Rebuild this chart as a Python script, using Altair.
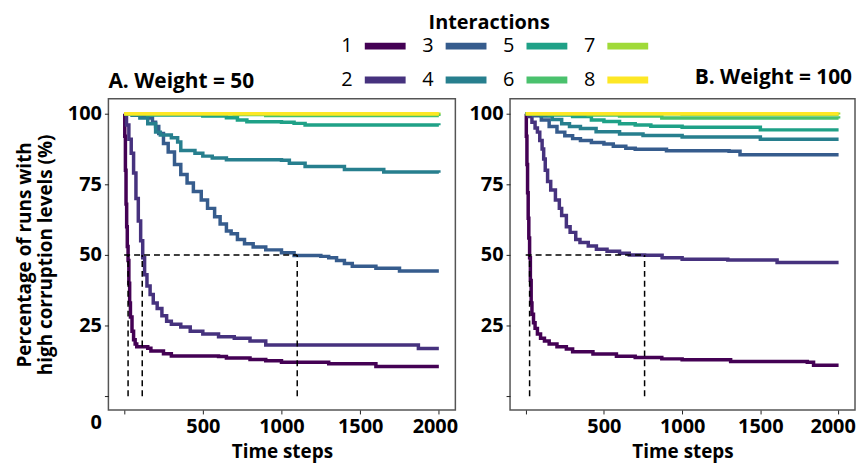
import altair as alt
import pandas as pd

FONT = "Open Sans"
INTERACTIONS = [1, 2, 3, 4, 5, 6, 7, 8]
COLORS = ["#440154", "#46327e", "#365c8d", "#277f8e", "#1fa187", "#4ac16d", "#a0da39", "#fde725"]
X_TICKS = [0, 500, 1000, 1500, 2000]
Y_TICKS = [0, 25, 50, 75, 100]

# ---- Panel A (Weight = 50): (time step, % of runs) ----
A1 = [(0, 100), (4, 92), (8, 80), (12, 68), (16, 60), (20, 53), (25, 48), (30, 40), (35, 33), (40, 28),
      (50, 23), (60, 20), (70, 18.5), (80, 17.5), (150, 17), (170, 16), (250, 15), (300, 14.2), (600, 14),
      (650, 13.5), (800, 13), (900, 12.5), (1000, 12), (1300, 11.5), (1600, 10.5), (2000, 10.5)]
A2 = [(0, 100), (15, 96), (30, 91), (45, 86), (60, 79), (75, 70), (90, 62), (105, 55), (118, 49), (130, 43),
      (145, 39), (165, 36), (185, 33), (210, 31), (240, 28.5), (270, 26.5), (300, 25.5), (360, 24.5),
      (420, 23), (500, 22), (600, 21), (700, 20.5), (800, 19.5), (900, 18.1), (1870, 16.9), (2000, 16.9)]
A3 = [(0, 100), (100, 99.5), (150, 98.5), (180, 97), (200, 95.5), (220, 93), (250, 89.5), (280, 86.5),
      (320, 82), (360, 78.5), (400, 75.5), (440, 72.5), (490, 69.5), (530, 66.5), (575, 63.5), (610, 61),
      (650, 58.5), (680, 57.5), (720, 55.5), (765, 54), (820, 52.8), (900, 51.8), (1000, 50.8), (1080, 49.8),
      (1250, 49.5), (1300, 49), (1350, 48), (1400, 47), (1450, 46), (1600, 45.3), (1750, 44.3), (2000, 44.3)]
A4 = [(0, 100), (50, 99.5), (100, 98.5), (150, 96.5), (200, 93.5), (230, 92.5), (300, 91.5), (340, 90),
      (360, 87), (450, 86), (500, 85), (560, 84.3), (650, 83.7), (1000, 83.5), (1050, 82.5), (1150, 81.3),
      (1400, 80.3), (1650, 79.4), (2000, 79.1)]
A5 = [(0, 100), (150, 99.6), (500, 99.2), (650, 98.6), (720, 97.8), (780, 97.2), (1000, 97), (1080, 96.6),
      (1150, 96), (2000, 95.9)]
A6 = [(0, 100), (700, 99.7), (900, 99.4), (2000, 99.2)]
A7 = [(0, 100), (1000, 99.8), (2000, 99.7)]
A8 = [(0, 100), (2000, 100)]

# ---- Panel B (Weight = 100) ----
B1 = [(0, 100), (4, 92), (8, 82), (12, 72), (16, 63), (20, 56), (25, 49), (30, 41), (35, 33), (40, 29),
      (50, 26), (60, 24), (75, 22), (95, 20.5), (120, 19.5), (150, 18.5), (200, 17.5), (260, 16.7),
      (300, 15.7), (430, 14.9), (580, 14.1), (700, 13.7), (870, 13.2), (1000, 12.9), (1310, 12.3),
      (1800, 12), (1840, 10.9), (2000, 10.9)]
B2 = [(0, 100), (20, 99), (40, 97), (60, 95), (75, 93.5), (90, 90.5), (105, 87.5), (115, 84), (125, 80),
      (140, 76), (160, 73), (190, 69.5), (215, 66.5), (230, 64), (260, 60), (284, 58), (320, 55.5),
      (347, 54.4), (400, 53.2), (452, 52), (520, 51.3), (600, 50.6), (662, 50), (760, 49.9), (872, 49),
      (1000, 48.5), (1292, 48.2), (1607, 47.3), (2000, 47.3)]
B3 = [(0, 100), (50, 99.3), (100, 97.8), (150, 95.5), (200, 93.5), (250, 92.2), (300, 91.2), (350, 90.5),
      (420, 89.8), (500, 89.3), (560, 88.5), (640, 87.8), (700, 87.4), (900, 86.9), (1300, 86.7),
      (1370, 85.5), (2000, 85.5)]
B4 = [(0, 100), (100, 99.2), (170, 98), (230, 96.5), (280, 95.5), (350, 94.8), (450, 93.6), (600, 92.8),
      (750, 92.3), (1000, 91.8), (1500, 91), (2000, 91)]
B5 = [(0, 100), (150, 99.6), (300, 99), (420, 97.8), (500, 97.3), (600, 96.5), (700, 96), (800, 95.6),
      (1000, 95.2), (1500, 94.3), (2000, 94.3)]
B6 = [(0, 100), (400, 99.6), (600, 99.2), (870, 98.5), (2000, 98.3)]
B7 = [(0, 100), (1000, 99.8), (2000, 99.7)]
B8 = [(0, 100), (2000, 100)]

A_SERIES = [A1, A2, A3, A4, A5, A6, A7, A8]
B_SERIES = [B1, B2, B3, B4, B5, B6, B7, B8]

# time steps at which a curve reaches 50 %
A_CROSS = [25, 115, 1100]
B_CROSS = [25, 760]

color_scale = alt.Scale(domain=INTERACTIONS, range=COLORS)
x_scale = alt.Scale(domain=[-100, 2105], nice=False, zero=False)
y_scale = alt.Scale(domain=[-4.9, 105.3], nice=False, zero=False)


def series_df(series):
    rows = []
    for k, pts in zip(INTERACTIONS, series):
        for t, p in pts:
            rows.append({"interaction": k, "t": t, "p": p})
    return pd.DataFrame(rows)


def panel(series, cross, y_title, show_zero, last_shift, width):
    x_axis = alt.Axis(values=X_TICKS, format="d", labelExpr="datum.value == 0 ? '' : datum.label",
                      title="Time steps", labelFlush=False, titlePadding=6,
                      labelOffset={"condition": {"test": "datum.value === 2000", "value": last_shift}, "value": 0})
    if show_zero:
        y_axis = alt.Axis(values=Y_TICKS, title=y_title, titlePadding=12, titleLineHeight=21,
                          labelOffset={"condition": {"test": "datum.value === 0", "value": 27}, "value": 0})
    else:
        y_axis = alt.Axis(values=Y_TICKS, title=None,
                          labelExpr="datum.value == 0 ? '' : datum.label")
    lines = alt.Chart(series_df(series)).mark_line(
        interpolate="step-after", strokeWidth=3.5
    ).encode(
        x=alt.X("t:Q", scale=x_scale, axis=x_axis),
        y=alt.Y("p:Q", scale=y_scale, axis=y_axis),
        color=alt.Color("interaction:N", scale=color_scale, legend=None),
    )
    hdf = pd.DataFrame({"t": [0], "t2": [max(cross)], "p": [50]})
    hrule = alt.Chart(hdf).mark_rule(color="black", strokeWidth=1.5, strokeDash=[6, 4]).encode(
        x=alt.X("t:Q", scale=x_scale), x2="t2:Q", y=alt.Y("p:Q", scale=y_scale)
    )
    vdf = pd.DataFrame({"t": cross, "p": [0] * len(cross), "p2": [50] * len(cross)})
    vrule = alt.Chart(vdf).mark_rule(color="black", strokeWidth=1.5, strokeDash=[6, 4]).encode(
        x=alt.X("t:Q", scale=x_scale), y=alt.Y("p:Q", scale=y_scale), y2="p2:Q"
    )
    return alt.layer(lines, hrule, vrule).properties(width=width, height=313)


pa = panel(A_SERIES, A_CROSS, ["Percentage of runs with", "high corruption levels (%)"], True, -4, 349)
pb = panel(B_SERIES, B_CROSS, None, False, -6, 347)

# ---- header: legend and panel titles (origin = left edge of panel A) ----
legend_df = pd.DataFrame({
    "interaction": INTERACTIONS,
    "col": [(k - 1) // 2 for k in INTERACTIONS],
    "row": [(k - 1) % 2 for k in INTERACTIONS],
})
legend_df["s0"] = legend_df["col"] + 0.22
legend_df["s1"] = legend_df["col"] + 0.725
hx = alt.Scale(domain=[0, 3], range=[240, 484])
hy = alt.Scale(domain=[0, 1], range=[36, 70])

leg_labels = alt.Chart(legend_df).mark_text(font=FONT, fontSize=20, color="black").encode(
    x=alt.X("col:Q", scale=hx, axis=None), y=alt.Y("row:Q", scale=hy, axis=None), text="interaction:N"
)
leg_swatch = alt.Chart(legend_df).mark_rule(strokeWidth=7).encode(
    x=alt.X("s0:Q", scale=hx, axis=None), x2="s1:Q", y=alt.Y("row:Q", scale=hy, axis=None),
    color=alt.Color("interaction:N", scale=color_scale, legend=None),
)
leg_title = alt.Chart(pd.DataFrame({"label": ["Interactions"]})).mark_text(
    font=FONT, fontSize=20, fontWeight="bold", color="black", align="center", baseline="middle"
).encode(x=alt.value(383), y=alt.value(13), text="label:N")
title_a = alt.Chart(pd.DataFrame({"label": ["A. Weight = 50"]})).mark_text(
    font=FONT, fontSize=21, fontWeight="bold", color="black", align="left", baseline="middle"
).encode(x=alt.value(0), y=alt.value(72.5), text="label:N")
title_b = alt.Chart(pd.DataFrame({"label": ["B. Weight = 100"]})).mark_text(
    font=FONT, fontSize=21, fontWeight="bold", color="black", align="right", baseline="middle"
).encode(x=alt.value(748), y=alt.value(68), text="label:N")

header = alt.layer(leg_swatch, leg_labels, leg_title, title_a, title_b).properties(
    width=748, height=87, view=alt.ViewBackground(stroke="transparent")
)

chart = alt.vconcat(header, alt.hconcat(pa, pb, spacing=8), spacing=0).properties(
    padding={"left": 6, "top": 0, "right": 0, "bottom": 0}
).configure_view(
    stroke="#555", strokeWidth=1.5
).configure_axis(
    labelFont=FONT, labelFontSize=20, labelFontWeight="bold", labelColor="black",
    titleFont=FONT, titleFontSize=19, titleFontWeight="bold", titleColor="black",
    tickColor="#222", tickSize=4, labelPadding=3, domain=False, grid=False
)

chart.save("out.html", embed_options={"renderer": "svg", "actions": False})
